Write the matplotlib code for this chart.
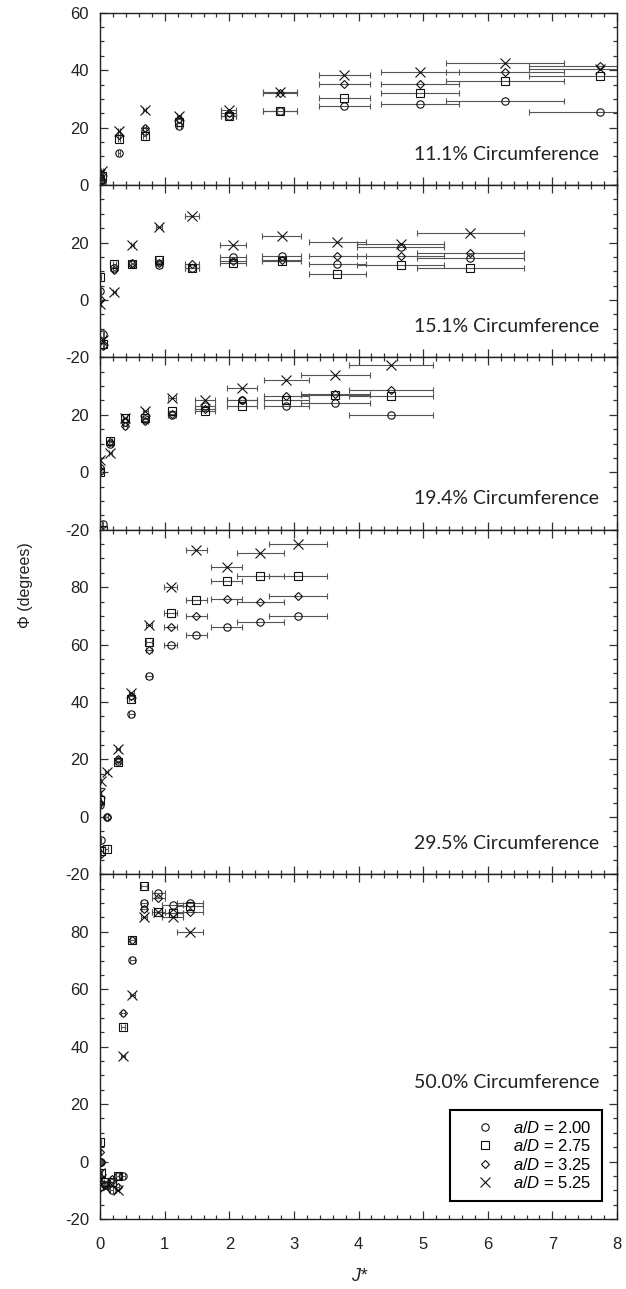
import numpy as np
import matplotlib.pyplot as plt
from matplotlib.ticker import MultipleLocator
from matplotlib.lines import Line2D

plt.rcParams['font.family'] = ['Liberation Sans', 'DejaVu Sans']
plt.rcParams['mathtext.fontset'] = 'custom'
plt.rcParams['mathtext.it'] = 'Liberation Sans:italic'
plt.rcParams['mathtext.rm'] = 'Liberation Sans'
plt.rcParams['axes.unicode_minus'] = False

nan = np.nan

# ---- 11.1% Circumference ----
x_111 = [0.0, 0.03, 0.29, 0.69, 1.22, 1.99, 2.78, 3.78, 4.95, 6.27, 7.74]
xerr_111 = [0.01, 0.01, 0.02, 0.02, 0.03, 0.12, 0.26, 0.39, 0.60, 0.91, 1.10]
y200_111 = [-0.5, 1.0, 11.0, 19.0, 20.5, 24.0, 25.7, 27.4, 28.4, 29.2, 25.4]
y275_111 = [2.0, 3.0, 16.0, 17.0, 22.0, 24.0, 25.7, 30.4, 32.0, 36.3, 38.0]
y325_111 = [3.0, 1.5, 17.5, 20.0, 23.0, 25.0, 32.0, 35.3, 35.3, 39.4, 41.3]
y525_111 = [4.0, 5.0, 19.0, 26.0, 24.0, 26.0, 32.4, 38.4, 39.4, 42.5, 40.4]

# ---- 15.1% Circumference ----
x_151 = [0.0, 0.05, 0.22, 0.50, 0.91, 1.42, 2.06, 2.81, 3.67, 4.65, 5.73]
xerr_151 = [0.01, 0.01, 0.02, 0.03, 0.04, 0.11, 0.20, 0.30, 0.44, 0.68, 0.83]
y200_151 = [3.0, -12.0, 11.0, 12.5, 12.0, 11.0, 15.0, 15.4, 12.5, 18.6, 14.5]
y275_151 = [8.0, -15.4, 12.5, 12.5, 14.0, 11.0, 12.7, 13.6, 9.0, 12.2, 11.0]
y325_151 = [0.5, -16.0, 10.5, 13.0, 13.0, 12.5, 13.5, 14.0, 15.4, 15.4, 16.5]
y525_151 = [-1.3, -14.0, 2.8, 19.2, 25.3, 29.2, 19.2, 22.1, 20.1, 19.4, 23.3]

# ---- 19.4% Circumference ----
x_194 = [0.0, 0.04, 0.16, 0.39, 0.70, 1.11, 1.62, 2.20, 2.88, 3.64, 4.50]
xerr_194 = [0.01, 0.01, 0.02, 0.03, 0.04, 0.06, 0.15, 0.23, 0.35, 0.53, 0.65]
y200_194 = [0.3, -18.0, 10.0, 17.5, 18.5, 20.1, 23.0, 25.0, 23.2, 24.1, 20.1]
y275_194 = [0.0, -20.0, 11.0, 19.0, 19.0, 21.3, 21.3, 23.0, 25.0, 27.0, 26.5]
y325_194 = [2.0, nan, 10.5, 16.0, 18.0, 20.3, 22.0, 25.0, 26.5, 27.3, 28.5]
y525_194 = [4.4, nan, 6.7, 19.0, 21.3, 25.9, 25.3, 29.2, 32.0, 34.0, 37.2]

# ---- 29.5% Circumference ----
x_295 = [0.0, 0.01, 0.10, 0.27, 0.48, 0.76, 1.09, 1.49, 1.96, 2.48, 3.06]
xerr_295 = [0.01, 0.01, 0.02, 0.03, 0.04, 0.05, 0.10, 0.16, 0.24, 0.36, 0.45]
y200_295 = [4.0, -8.0, 0.0, 19.5, 36.0, 49.0, 60.0, 63.3, 66.0, 67.9, 70.1]
y275_295 = [6.0, -12.0, -11.0, 19.0, 41.0, 61.0, 71.0, 75.7, 82.0, 83.8, 83.8]
y325_295 = [5.0, -13.0, 0.0, 20.0, 42.0, 58.0, 66.0, 70.0, 76.0, 75.0, 77.0]
y525_295 = [8.3, 12.4, 15.6, 23.8, 43.2, 67.0, 80.0, 93.0, 87.0, 92.0, 95.0]

# ---- 50.0% Circumference ----
x_500 = [0.0, 0.02, 0.08, 0.18, 0.27, 0.36, 0.50, 0.68, 0.90, 1.12, 1.39]
xerr_500 = [0.01, 0.01, 0.02, 0.02, 0.02, 0.03, 0.04, 0.05, 0.10, 0.17, 0.20]
y200_500 = [-0.3, 0.0, -8.0, -9.9, -5.0, -4.9, 70.1, 90.0, 93.4, 89.3, 90.0]
y275_500 = [6.9, -4.0, -7.0, -7.0, -5.0, 46.9, 77.1, 96.0, 87.0, 86.4, 89.0]
y325_500 = [3.4, 0.0, -8.0, -6.0, -9.0, 51.8, 77.0, 88.0, 91.6, 86.4, 87.0]
y525_500 = [-4.0, -6.0, -9.0, -8.0, -10.0, 36.8, 58.0, 85.0, 87.0, 85.2, 80.0]

ad_labels = ['2.00', '2.75', '3.25', '5.25']
markers = ['o', 's', 'D', 'x']
msizes = [5.3, 6.2, 4.2, 6.7]

panels = [
    ('11.1% Circumference', x_111, xerr_111, [y200_111, y275_111, y325_111, y525_111], (0, 60), [0, 20, 40, 60], 0.18),
    ('15.1% Circumference', x_151, xerr_151, [y200_151, y275_151, y325_151, y525_151], (-20, 40), [-20, 0, 20], 0.18),
    ('19.4% Circumference', x_194, xerr_194, [y200_194, y275_194, y325_194, y525_194], (-20, 40), [-20, 0, 20], 0.18),
    ('29.5% Circumference', x_295, xerr_295, [y200_295, y275_295, y325_295, y525_295], (-20, 100), [-20, 0, 20, 40, 60, 80], 0.09),
    ('50.0% Circumference', x_500, xerr_500, [y200_500, y275_500, y325_500, y525_500], (-20, 100), [-20, 0, 20, 40, 60, 80], 0.396),
]

fig = plt.figure(figsize=(6.26, 12.89), dpi=100)
gs = fig.add_gridspec(5, 1, height_ratios=[1, 1, 1, 2, 2], hspace=0,
                      left=0.160, right=0.9856, top=0.9901, bottom=0.0543)

axes = []
for i, (label, x, xerr, ys, ylim, yticks, ty) in enumerate(panels):
    ax = fig.add_subplot(gs[i])
    axes.append(ax)
    for y, m, ms in zip(ys, markers, msizes):
        ax.errorbar(x, y, xerr=xerr, fmt=m, ms=ms, mfc='none', mec='#111111',
                    mew=0.8, ecolor='#555555', elinewidth=0.8, capsize=2.5,
                    capthick=0.8, clip_on=True)
    ax.set_xlim(0, 8)
    ax.set_ylim(*ylim)
    ax.set_yticks(yticks)
    ax.yaxis.set_minor_locator(MultipleLocator(5))
    ax.xaxis.set_major_locator(MultipleLocator(1))
    ax.xaxis.set_minor_locator(MultipleLocator(0.2))
    ax.tick_params(which='both', direction='in', top=True, right=True,
                   color='#333333', width=0.9)
    ax.tick_params(which='major', length=6)
    ax.tick_params(which='minor', length=3)
    ax.tick_params(axis='y', labelsize=12, pad=8, labelcolor='#222222')
    ax.tick_params(axis='x', labelsize=12, pad=13, labelcolor='#222222')
    if i < 4:
        ax.tick_params(axis='x', labelbottom=False)
    for s in ax.spines.values():
        s.set_linewidth(1.0)
        s.set_color('#222222')
    ax.text(0.966, ty, label, transform=ax.transAxes, ha='right', va='center',
            fontsize=14, family='Lato', color='#222222')

# legend (markers only)
handles = [Line2D([], [], linestyle='none', marker=m, ms=ms, mfc='none',
                  mec='#111111', mew=0.8) for m, ms in zip(markers, msizes)]
labels = ['$a/D$ = ' + a for a in ad_labels]
leg = axes[4].legend(handles, labels, loc='lower right', bbox_to_anchor=(0.971, 0.052),
                     fontsize=12, frameon=True, fancybox=False, framealpha=1,
                     edgecolor='black', borderpad=0.6, handlelength=3.0,
                     handletextpad=0.2, labelspacing=0.15, borderaxespad=0)
leg.get_frame().set_linewidth(1.5)

fig.text(0.04, 0.546, 'Φ (degrees)', rotation=90, ha='center', va='center',
         fontsize=11.5, color='#222222')
fig.text(0.5 * (0.160 + 0.9856), 0.010, 'J*', ha='center', va='center',
         fontsize=13, style='italic', color='#222222')

fig.savefig('out.png', dpi=100)
